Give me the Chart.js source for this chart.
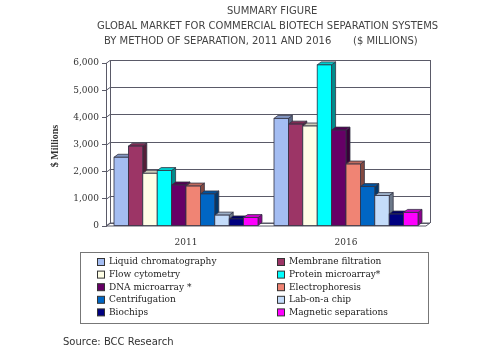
<!DOCTYPE html>
<html>
<head>
<meta charset="utf-8">
<script src="https://cdn.jsdelivr.net/npm/chart.js@4.4.1/dist/chart.umd.min.js"></script>
<style>
  html, body { margin: 0; padding: 0; background: #fff; }
  #wrap { width: 485px; height: 361px; position: relative; }
</style>
</head>
<body>
<div id="wrap"><canvas id="myChart"></canvas></div>
<script>
'use strict';

// Chart data
const years = ['2011', '2016'];
const methods = [
    'Liquid chromatography', 'Membrane filtration',
    'Flow cytometry', 'Protein microarray*',
    'DNA microarray *', 'Electrophoresis',
    'Centrifugation', 'Lab-on-a chip',
    'Biochips', 'Magnetic separations'
];
const values2011 = [2530, 2940, 1940, 2040, 1510, 1470, 1180, 400, 260, 310];
const values2016 = [3960, 3750, 3680, 5930, 3530, 2280, 1450, 1120, 440, 500];
const colors = [
    '#A4BDF2', '#9C3566', '#FFFFE6', '#00FFFF', '#660066',
    '#F08474', '#0066C4', '#C4DCFA', '#000080', '#FF00FF'
];
const yTickLabels = ['0', '1,000', '2,000', '3,000', '4,000', '5,000', '6,000'];
const yAxisTitle = '$ Millions';
const titleLines = [
    { text: 'SUMMARY FIGURE', x: 227, y: 11 },
    { text: 'GLOBAL MARKET FOR COMMERCIAL BIOTECH SEPARATION SYSTEMS', x: 97, y: 26 },
    { text: 'BY METHOD OF SEPARATION, 2011 AND 2016', x: 104, y: 41 },
    { text: '($ MILLIONS)', x: 353, y: 41 }
];
const sourceText = 'Source: BCC Research';

// 3D depth offset
const DX = 4;
const DY = 3;

// Darken a hex colour by a factor
function shade(hex, f) {
    const n = parseInt(hex.slice(1), 16);
    const r = Math.round(((n >> 16) & 255) * f);
    const g = Math.round(((n >> 8) & 255) * f);
    const b = Math.round((n & 255) * f);
    return `rgb(${r},${g},${b})`;
}

// Back wall, left wall and floor
const wallPlugin = {
    id: 'wall',
    beforeDatasetsDraw(chart) {
        const { ctx, chartArea: a, scales: { y } } = chart;
        ctx.save();
        ctx.strokeStyle = '#5a5a68';
        ctx.lineWidth = 1;
        // floor
        ctx.beginPath();
        ctx.moveTo(a.left, a.bottom);
        ctx.lineTo(a.right, a.bottom);
        ctx.lineTo(a.right + DX, a.bottom - DY);
        ctx.lineTo(a.left + DX, a.bottom - DY);
        ctx.closePath();
        ctx.stroke();
        // gridlines on back wall + left wall diagonals
        for (let i = 0; i < yTickLabels.length; i++) {
            const py = Math.round(y.getPixelForValue(i * 1000)) + 0.5;
            ctx.beginPath();
            ctx.moveTo(a.left + DX, py - DY);
            ctx.lineTo(a.right + DX, py - DY);
            ctx.stroke();
            ctx.beginPath();
            ctx.moveTo(a.left, py);
            ctx.lineTo(a.left + DX, py - DY);
            ctx.stroke();
        }
        // wall edges
        ctx.beginPath();
        ctx.moveTo(a.left + DX + 0.5, a.top - DY);
        ctx.lineTo(a.left + DX + 0.5, a.bottom - DY);
        ctx.moveTo(a.right + DX + 0.5, a.top - DY);
        ctx.lineTo(a.right + DX + 0.5, a.bottom - DY);
        ctx.stroke();
        ctx.restore();
    }
};

// Redraw bars as 3D blocks, left to right
const bars3dPlugin = {
    id: 'bars3d',
    afterDatasetsDraw(chart) {
        const ctx = chart.ctx;
        ctx.save();
        ctx.lineWidth = 0.8;
        ctx.strokeStyle = '#333344';
        chart.data.datasets.forEach((ds, i) => {
            const meta = chart.getDatasetMeta(i);
            meta.data.forEach(bar => {
                const p = bar.getProps(['x', 'y', 'base', 'width'], true);
                const l = p.x - p.width / 2;
                const r = p.x + p.width / 2;
                const t = p.y;
                const b = p.base;
                // side
                ctx.fillStyle = shade(colors[i], 0.55);
                ctx.beginPath();
                ctx.moveTo(r, t);
                ctx.lineTo(r + DX, t - DY);
                ctx.lineTo(r + DX, b - DY);
                ctx.lineTo(r, b);
                ctx.closePath();
                ctx.fill();
                ctx.stroke();
                // top
                ctx.fillStyle = shade(colors[i], 0.8);
                ctx.beginPath();
                ctx.moveTo(l, t);
                ctx.lineTo(l + DX, t - DY);
                ctx.lineTo(r + DX, t - DY);
                ctx.lineTo(r, t);
                ctx.closePath();
                ctx.fill();
                ctx.stroke();
                // front
                ctx.fillStyle = colors[i];
                ctx.fillRect(l, t, r - l, b - t);
                ctx.strokeRect(l, t, r - l, b - t);
            });
        });
        ctx.restore();
    }
};

// Titles, axis title, legend box and source line
const textPlugin = {
    id: 'texts',
    afterDraw(chart) {
        const ctx = chart.ctx;
        ctx.save();
        ctx.textBaseline = 'middle';
        ctx.textAlign = 'left';
        ctx.fillStyle = '#444444';
        ctx.font = '10px "DejaVu Sans"';
        titleLines.forEach(line => ctx.fillText(line.text, line.x, line.y));

        // y axis title
        ctx.save();
        ctx.translate(55, 146);
        ctx.rotate(-Math.PI / 2);
        ctx.textAlign = 'center';
        ctx.fillStyle = '#333333';
        ctx.font = 'bold 10px "Liberation Serif"';
        ctx.fillText(yAxisTitle, 0, 0);
        ctx.restore();

        // legend
        ctx.strokeStyle = '#777777';
        ctx.lineWidth = 1;
        ctx.strokeRect(80.5, 252.5, 348, 71);
        ctx.font = '9px "DejaVu Serif"';
        methods.forEach((name, i) => {
            const col = i % 2;
            const row = Math.floor(i / 2);
            const sx = col === 0 ? 97 : 277;
            const cy = 262 + row * 12.6;
            ctx.fillStyle = colors[i];
            ctx.fillRect(sx, cy - 3.5, 7, 7);
            ctx.strokeStyle = '#333333';
            ctx.strokeRect(sx + 0.5, cy - 3.5, 7, 7);
            ctx.fillStyle = '#222222';
            ctx.fillText(name, sx + 12, cy);
        });

        // source
        ctx.fillStyle = '#333333';
        ctx.font = '10px "DejaVu Sans"';
        ctx.fillText(sourceText, 63, 342);
        ctx.restore();
    }
};

function createChart() {
    const ctx = document.getElementById('myChart').getContext('2d');

    const datasets = methods.map((name, i) => ({
        label: name,
        data: [values2011[i], values2016[i]],
        backgroundColor: colors[i],
        borderWidth: 0
    }));

    new Chart(ctx, {
        type: 'bar',
        data: { labels: years, datasets: datasets },
        options: {
            responsive: true,
            maintainAspectRatio: false,
            animation: false,
            datasets: {
                bar: { categoryPercentage: 0.9, barPercentage: 1.0 }
            },
            layout: { padding: { left: 0, right: 59, top: 63, bottom: 105 } },
            plugins: {
                legend: { display: false },
                title: { display: false },
                tooltip: { enabled: false }
            },
            scales: {
                x: {
                    grid: { display: false },
                    border: { display: false },
                    ticks: {
                        color: '#333333',
                        font: { family: 'DejaVu Serif', size: 9 },
                        padding: 3
                    },
                    afterFit: s => { s.height = 30; }
                },
                y: {
                    min: 0,
                    max: 6000,
                    grid: {
                        drawOnChartArea: false,
                        drawTicks: true,
                        tickLength: 4,
                        color: '#5a5a68'
                    },
                    border: { display: true, color: '#5a5a68' },
                    ticks: {
                        stepSize: 1000,
                        padding: 3,
                        color: '#333333',
                        font: { family: 'DejaVu Serif', size: 9 },
                        callback: (v, i) => yTickLabels[i]
                    },
                    afterFit: s => { s.width = 106; }
                }
            }
        },
        plugins: [wallPlugin, bars3dPlugin, textPlugin]
    });
}

window.onload = createChart;
</script>
</body>
</html>
